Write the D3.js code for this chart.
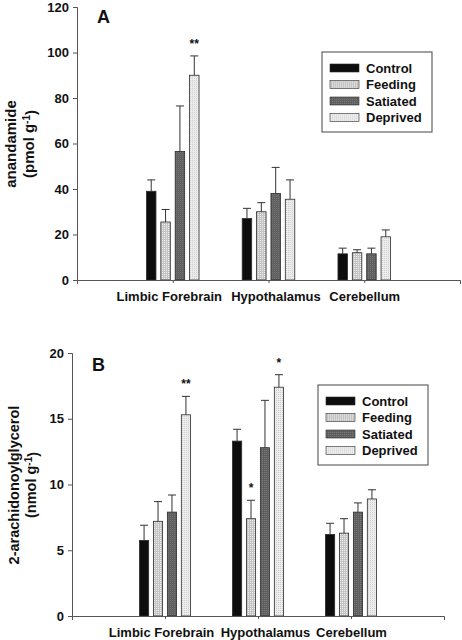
<!DOCTYPE html>
<html>
<head>
<meta charset="utf-8">
<script src="https://cdn.jsdelivr.net/npm/d3@7"></script>
<style>
  body { margin: 0; background: #fff; }
  svg text { font-family: 'Liberation Sans', Arial, sans-serif; font-weight: bold; fill: #111; }
</style>
</head>
<body>
<div id="graf"></div>
<script>
// I. Datos
regiones = ['Limbic Forebrain', 'Hypothalamus', 'Cerebellum']
grupos = ['Control', 'Feeding', 'Satiated', 'Deprived']

// A: anandamide (pmol g-1), media y extremo de la barra de error
anaMedia = {
  Control:  [39, 27, 11.5],
  Feeding:  [25.5, 30, 12],
  Satiated: [56.5, 38, 11.5],
  Deprived: [90, 35.5, 19]
}
anaError = {
  Control:  [44, 31.5, 14],
  Feeding:  [31, 34, 13.3],
  Satiated: [76.5, 49.5, 14],
  Deprived: [98.5, 44, 22]
}
anaTicks = [0, 20, 40, 60, 80, 100, 120]
anaSignif = [{ region: 0, grupo: 'Deprived', txt: '**' }]

// B: 2-arachidonoylglycerol (nmol g-1)
agMedia = {
  Control:  [5.75, 13.3, 6.2],
  Feeding:  [7.2, 7.4, 6.3],
  Satiated: [7.9, 12.8, 7.9],
  Deprived: [15.3, 17.4, 8.9]
}
agError = {
  Control:  [6.9, 14.2, 7.05],
  Feeding:  [8.7, 8.8, 7.4],
  Satiated: [9.2, 16.4, 8.6],
  Deprived: [16.7, 18.35, 9.6]
}
agTicks = [0, 5, 10, 15, 20]
agSignif = [
  { region: 0, grupo: 'Deprived', txt: '**' },
  { region: 1, grupo: 'Feeding', txt: '*' },
  { region: 1, grupo: 'Deprived', txt: '*' }
]

// II. Configuración
svg = d3.select('#graf').append('svg')
        .attr('width', 462)
        .attr('height', 640)

defs = svg.append('defs')

function patron(id, fondo, punto, paso) {
  p = defs.append('pattern')
          .attr('id', id)
          .attr('patternUnits', 'userSpaceOnUse')
          .attr('width', paso).attr('height', paso)
  p.append('rect').attr('width', paso).attr('height', paso).attr('fill', fondo)
  p.append('rect').attr('width', 1).attr('height', 1).attr('fill', punto)
}
patron('pFeeding', '#c4c4c4', '#eeeeee', 2)
patron('pSatiated', '#5e5e5e', '#7a7a7a', 2)
patron('pDeprived', '#ececec', '#cfcfcf', 2)

relleno = d3.scaleOrdinal()
            .domain(grupos)
            .range(['#0d0d0d', 'url(#pFeeding)', 'url(#pSatiated)', 'url(#pDeprived)'])

// desplazamiento de las etiquetas de región
desplazaEtiqueta = [-4, 7, 0]

// III. Dibujo de un panel
function panel(cfg) {
  g = svg.append('g')

  x = d3.scaleLinear().domain([0, 4]).range([cfg.izq, cfg.der])
  y = d3.scaleLinear().domain([0, cfg.max]).range([cfg.base, cfg.techo])

  paso = x(1) - x(0)
  sub = d3.scaleBand()
          .domain(grupos)
          .range([-0.3 * paso, 0.3 * paso])
          .paddingInner(0.34)
          .paddingOuter(0.17)

  // barras
  grupos.forEach(gr => {
    cfg.media[gr].forEach((v, i) => {
      bx = x(i + 1) + sub(gr)
      g.append('rect')
       .attr('x', bx)
       .attr('y', y(v))
       .attr('width', sub.bandwidth())
       .attr('height', y(0) - y(v))
       .attr('fill', relleno(gr))
       .attr('stroke', '#2a2a2a')
       .attr('stroke-width', 0.8)

      // barra de error
      cx = bx + sub.bandwidth() / 2
      e = cfg.error[gr][i]
      g.append('line')
       .attr('x1', cx).attr('x2', cx)
       .attr('y1', y(v)).attr('y2', y(e))
       .attr('stroke', '#333').attr('stroke-width', 1)
      g.append('line')
       .attr('x1', cx - 4).attr('x2', cx + 4)
       .attr('y1', y(e)).attr('y2', y(e))
       .attr('stroke', '#333').attr('stroke-width', 1)
    })
  })

  // asteriscos
  cfg.signif.forEach(s => {
    g.append('text')
     .attr('x', x(s.region + 1) + sub(s.grupo) + sub.bandwidth() / 2)
     .attr('y', y(cfg.error[s.grupo][s.region]) - 8)
     .attr('text-anchor', 'middle')
     .style('font-size', '12px')
     .text(s.txt)
  })

  // ejes
  yAxis = g.append('g')
           .attr('transform', `translate(${cfg.izq}, 0)`)
           .call(d3.axisLeft(y).tickValues(cfg.ticks).tickSize(4).tickPadding(4))
  yAxis.selectAll('text').style('font-size', '13px')

  xAxis = g.append('g')
           .attr('transform', `translate(0, ${cfg.base})`)
           .call(d3.axisBottom(x).tickValues([1, 2, 3]).tickSize(3).tickSizeOuter(4)
                   .tickFormat(d => regiones[d - 1]).tickPadding(9))
  xAxis.selectAll('text')
       .style('font-size', '13px')
       .attr('dx', (d, i) => desplazaEtiqueta[i])
  g.selectAll('.domain, .tick line').attr('stroke', '#555')

  // título del eje y
  ty = g.append('text')
        .attr('transform', `translate(${cfg.tituloX}, ${cfg.tituloY}) rotate(-90)`)
        .attr('text-anchor', 'middle')
        .style('font-size', cfg.tituloTam)
  ty.append('tspan').attr('x', 0).attr('dy', 0).text(cfg.titulo)
  t2 = ty.append('tspan').attr('x', 0).attr('dy', '1.2em').text(`(${cfg.unidad} g`)
  t2.append('tspan').attr('dy', '-0.4em').style('font-size', '10px').text('-1')
  t2.append('tspan').attr('dy', '0.4em').text(')')

  // letra del panel
  g.append('text')
   .attr('x', cfg.izq + 20)
   .attr('y', cfg.letraY)
   .style('font-size', '18px')
   .text(cfg.letra)

  // leyenda
  ley = g.append('g').attr('transform', `translate(${cfg.leyX}, ${cfg.leyY})`)
  ley.append('rect')
     .attr('width', 110).attr('height', 80)
     .attr('fill', '#fff').attr('stroke', '#444').attr('stroke-width', 1)
  grupos.forEach((gr, i) => {
    fila = ley.append('g').attr('transform', `translate(8, ${16 + i * 16.5})`)
    fila.append('rect')
        .attr('y', -4).attr('width', 29).attr('height', 8)
        .attr('fill', relleno(gr))
        .attr('stroke', '#2a2a2a').attr('stroke-width', 0.6)
    fila.append('text')
        .attr('x', 36).attr('y', 4.5)
        .style('font-size', '13px')
        .text(gr)
  })
}

// IV. Despliegue
panel({
  izq: 77, der: 460, base: 280, techo: 7, max: 120,
  media: anaMedia, error: anaError, ticks: anaTicks, signif: anaSignif,
  titulo: 'anandamide', unidad: 'pmol', tituloX: 16, tituloY: 144, tituloTam: '15px',
  letra: 'A', letraY: 23, leyX: 322, leyY: 52
})

panel({
  izq: 72, der: 444, base: 616, techo: 353, max: 20,
  media: agMedia, error: agError, ticks: agTicks, signif: agSignif,
  titulo: '2-arachidonoylglycerol', unidad: 'nmol', tituloX: 19, tituloY: 485, tituloTam: '14.5px',
  letra: 'B', letraY: 371, leyX: 318, leyY: 385
})
</script>
</body>
</html>
